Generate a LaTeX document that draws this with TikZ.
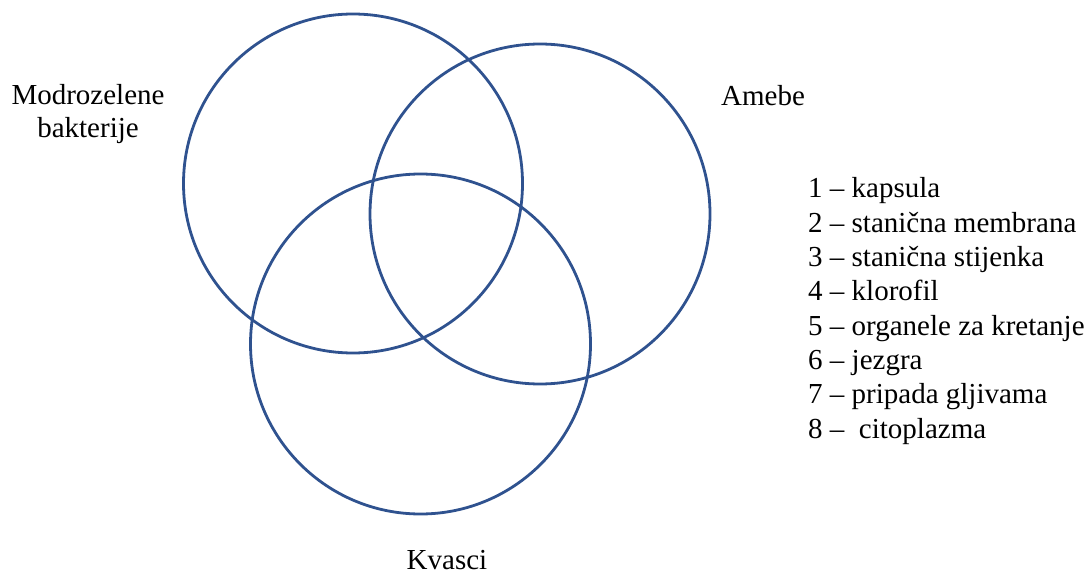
\documentclass[tikz,border=0pt]{standalone}
\usepackage{fontspec}
\setmainfont{Liberation Serif}
\definecolor{ring}{RGB}{47,82,143}
\begin{document}
\begin{tikzpicture}[x=1pt,y=-1pt,
  ringline/.style={draw=ring,line width=2.8pt},
  lbl/.style={inner sep=0pt,font=\fontsize{29}{34}\selectfont},
  leg/.style={lbl,anchor=base west}]
\useasboundingbox (0,0) rectangle (1091,577);
\draw[ringline] (353,183.5) circle (169.5);
\draw[ringline] (540,214) circle (170);
\draw[ringline] (420.5,344) circle (170);
\node[lbl,anchor=base] (m1) at (88,105) {Modrozelene};
\node[lbl,anchor=base] (m2) at (88,138) {bakterije};
\node[lbl,anchor=base] (am) at (763,106) {Amebe};
\node[lbl,anchor=base] (kv) at (447,569) {Kvasci};
\node[leg] (l1) at (808,198) {1 – kapsula};
\node[leg] (l2) at (808,232.3) {2 – stanična membrana};
\node[leg] (l3) at (808,266.6) {3 – stanična stijenka};
\node[leg] (l4) at (808,300.9) {4 – klorofil};
\node[leg] (l5) at (808,335.2) {5 – organele za kretanje};
\node[leg] (l6) at (808,369.5) {6 – jezgra};
\node[leg] (l7) at (808,403.8) {7 – pripada gljivama};
\node[leg] (l8) at (808,438.1) {8 – \ citoplazma};
\end{tikzpicture}
\end{document}
